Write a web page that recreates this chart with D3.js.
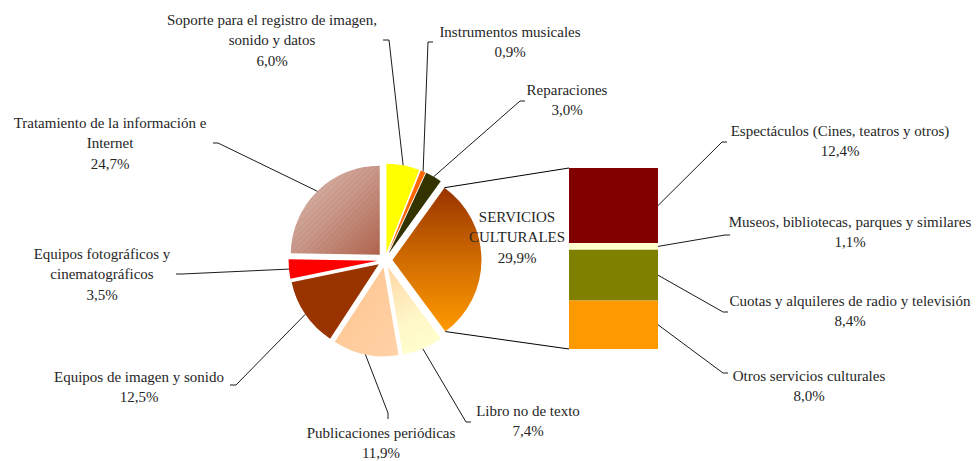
<!DOCTYPE html>
<html>
<head>
<meta charset="utf-8">
<script src="https://cdn.jsdelivr.net/npm/d3@7"></script>
<style>
  html, body { margin: 0; padding: 0; background: #fff; }
  svg { display: block; }
</style>
</head>
<body>
<script>
// ---------- DATA ----------
const categories = [
  "Soporte para el registro de imagen,\nsonido y datos",
  "Instrumentos musicales",
  "Reparaciones",
  "SERVICIOS\nCULTURALES",
  "Libro no de texto",
  "Publicaciones periódicas",
  "Equipos de imagen y sonido",
  "Equipos fotográficos y\ncinematográficos",
  "Tratamiento de la información e\nInternet"
];
const values = [6.0, 0.9, 3.0, 29.9, 7.4, 11.9, 12.5, 3.5, 24.7];

const subCategories = [
  "Espectáculos (Cines, teatros y otros)",
  "Museos, bibliotecas, parques y similares",
  "Cuotas y alquileres de radio y televisión",
  "Otros servicios culturales"
];
const subValues = [12.4, 1.1, 8.4, 8.0];

// ---------- LAYOUT / STYLE ----------
const W = 976, H = 461;
const cx = 385, cy = 260, R = 89, EXPLODE = 7.5;
const splitIndex = 3;
const barX0 = 569, barX1 = 658, barTop = 168, barBottom = 349;
const FONT = "'Liberation Serif', 'Tinos', 'Times New Roman', 'DejaVu Serif', serif";
const FONT_SIZE = 15;

const sliceFills = ["#FFFF00", "#FF6600", "#333300", "url(#gServ)", "url(#gLibro)",
                    "url(#gPubl)", "#993300", "#FF0000", "url(#gTratBase)"];
const subFills = ["#800000", "#FFFFCC", "#808000", "#FF9900"];

const labelLayout = [
  {x: 272, y: 20, elbow: [389, 40], tick: [383, 40]},
  {x: 510, y: 32, elbow: [428, 42], tick: [433, 42]},
  {x: 567, y: 90, elbow: [520, 101], tick: [525, 101]},
  {x: 517, y: 217, elbow: null, tick: null},
  {x: 528, y: 411, elbow: [466, 422], tick: [471, 422]},
  {x: 381, y: 433, elbow: [388, 413], tick: [388, 419]},
  {x: 139, y: 377, elbow: [236, 385], tick: [230, 385]},
  {x: 102, y: 254, elbow: [182, 274], tick: [176, 274]},
  {x: 110, y: 123, elbow: [218, 143], tick: [213, 143]}
];
const subLabelLayout = [
  {x: 840, y: 131, elbow: [722, 142], tick: [727, 142]},
  {x: 850, y: 222, elbow: [725, 235], tick: [730, 235]},
  {x: 850, y: 301, elbow: [723, 312], tick: [728, 312]},
  {x: 809, y: 376, elbow: [723, 373], tick: [728, 373]}
];
const LINE_H = 20.3;

const fmtPct = v => d3.format(".1f")(v).replace(".", ",") + "%";

// ---------- SVG ----------
const svg = d3.select("body").append("svg").attr("width", W).attr("height", H);
const defs = svg.append("defs");

function linGrad(id, x1, y1, x2, y2, stops) {
  const g = defs.append("linearGradient").attr("id", id)
    .attr("x1", x1).attr("y1", y1).attr("x2", x2).attr("y2", y2);
  stops.forEach(s => g.append("stop").attr("offset", s[0]).attr("stop-color", s[1]));
}
linGrad("gServ", 0, 0, 0, 1, [[0, "#993300"], [0.5, "#D06C00"], [1, "#FF9900"]]);
linGrad("gLibro", 0.2, 0, 0.5, 1, [[0, "#FFD9A8"], [0.6, "#FFF6C8"], [1, "#FFFFCC"]]);
linGrad("gPubl", 0, 0, 1, 1, [[0, "#FFC48E"], [1, "#FFD2A8"]]);
linGrad("gTratBase", 0, 0, 1, 1, [[0, "#DEC0B4"], [0.5, "#C9988A"], [1, "#B0644E"]]);

const pat = defs.append("pattern").attr("id", "hatch").attr("patternUnits", "userSpaceOnUse")
  .attr("width", 4).attr("height", 4).attr("patternTransform", "rotate(45)");
pat.append("line").attr("x1", 0).attr("y1", 0).attr("x2", 0).attr("y2", 4)
  .attr("stroke", "#8a4a3a").attr("stroke-width", 0.6).attr("stroke-opacity", 0.35);

const pie = d3.pie().sort(null).value(d => d).startAngle(0).endAngle(2 * Math.PI);
const arcs = pie(values);
const arc = d3.arc().innerRadius(0).outerRadius(R);
const anchorArc = d3.arc().innerRadius(R + EXPLODE).outerRadius(R + EXPLODE);

function explodeOffset(d) {
  const m = (d.startAngle + d.endAngle) / 2;
  return [EXPLODE * Math.sin(m), -EXPLODE * Math.cos(m)];
}

const pieG = svg.append("g").attr("transform", `translate(${cx},${cy})`);
arcs.forEach((d, i) => {
  const off = explodeOffset(d);
  const g = pieG.append("g").attr("transform", `translate(${off[0]},${off[1]})`);
  g.append("path").attr("d", arc(d)).attr("fill", sliceFills[i]);
  if (i === 8) g.append("path").attr("d", arc(d)).attr("fill", "url(#hatch)");
});

// ---------- BAR OF PIE ----------
const subTotal = d3.sum(subValues);
const yBar = d3.scaleLinear().domain([0, subTotal]).range([barTop, barBottom]);
let cum = 0;
const stacked = subValues.map(v => { const s = cum; cum += v; return {y0: s, y1: cum, v}; });

svg.append("g").selectAll("rect").data(stacked).join("rect")
  .attr("x", barX0).attr("width", barX1 - barX0)
  .attr("y", d => yBar(d.y0)).attr("height", d => yBar(d.y1) - yBar(d.y0))
  .attr("fill", (d, i) => subFills[i]);

const sd = arcs[splitIndex];
const so = explodeOffset(sd);
const pStart = [cx + so[0] + R * Math.sin(sd.startAngle), cy + so[1] - R * Math.cos(sd.startAngle)];
const pEnd = [cx + so[0] + R * Math.sin(sd.endAngle), cy + so[1] - R * Math.cos(sd.endAngle)];
const lineGen = d3.line();
svg.append("path").attr("d", lineGen([pStart, [barX0, yBar(0)]]))
  .attr("stroke", "#000").attr("stroke-width", 1).attr("fill", "none");
svg.append("path").attr("d", lineGen([pEnd, [barX0, yBar(subTotal)]]))
  .attr("stroke", "#000").attr("stroke-width", 1).attr("fill", "none");

// ---------- LEADERS & LABELS ----------
const leaderG = svg.append("g").attr("fill", "none").attr("stroke", "#000").attr("stroke-width", 0.9);
arcs.forEach((d, i) => {
  const L = labelLayout[i];
  if (!L.elbow) return;
  const a = anchorArc.centroid(d);
  leaderG.append("path").attr("d", lineGen([[cx + a[0], cy + a[1]], L.elbow, L.tick]));
});
stacked.forEach((d, i) => {
  const L = subLabelLayout[i];
  const ym = (yBar(d.y0) + yBar(d.y1)) / 2;
  leaderG.append("path").attr("d", lineGen([[barX1, ym], L.elbow, L.tick]));
});

function drawLabel(L, name, v) {
  const lines = name.split("\n").concat([fmtPct(v)]);
  const t = svg.append("text").attr("text-anchor", "middle")
    .attr("font-family", FONT).attr("font-size", FONT_SIZE).attr("fill", "#262626");
  lines.forEach((ln, k) => {
    t.append("tspan").attr("x", L.x).attr("y", L.y + k * LINE_H + 5).text(ln);
  });
}
arcs.forEach((d, i) => drawLabel(labelLayout[i], categories[i], values[i]));
subValues.forEach((v, i) => drawLabel(subLabelLayout[i], subCategories[i], v));
</script>
</body>
</html>
